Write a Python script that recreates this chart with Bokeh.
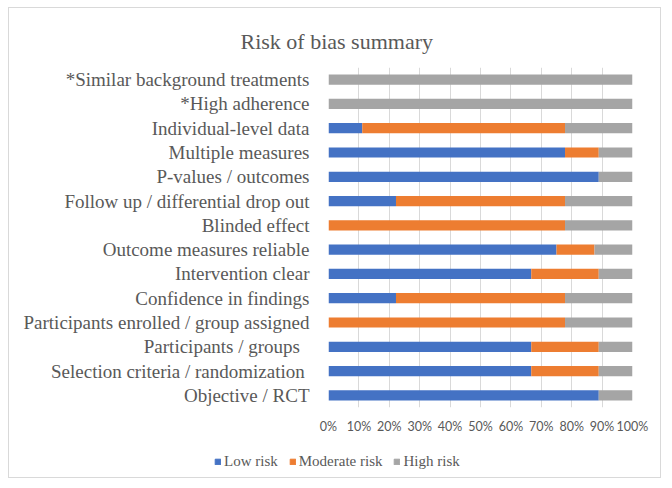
from bokeh.plotting import figure
from bokeh.models import Range1d, FactorRange, Legend, LegendItem, ColumnDataSource, FixedTicker, Title
from bokeh.embed import file_html
from bokeh.resources import INLINE

categories = [
    "Objective / RCT",
    "Selection criteria / randomization ",
    "Participants  / groups ",
    "Participants enrolled / group assigned",
    "Confidence in findings",
    "Intervention clear",
    "Outcome measures reliable",
    "Blinded effect",
    "Follow up / differential drop out",
    "P-values / outcomes",
    "Multiple measures",
    "Individual-level data",
    "*High adherence",
    "*Similar background treatments",
]
low_risk = [88.9, 66.7, 66.7, 0.0, 22.2, 66.7, 75.0, 0.0, 22.2, 88.9, 77.8, 11.1, 0.0, 0.0]
moderate_risk = [0.0, 22.2, 22.2, 77.8, 55.6, 22.2, 12.5, 77.8, 55.6, 0.0, 11.1, 66.7, 0.0, 0.0]
high_risk = [11.1, 11.1, 11.1, 22.2, 22.2, 11.1, 12.5, 22.2, 22.2, 11.1, 11.1, 22.2, 100.0, 100.0]
series_names = ["Low risk", "Moderate risk", "High risk"]
series_colors = ["#4472C4", "#ED7D31", "#A5A5A5"]
tick_values = [0, 10, 20, 30, 40, 50, 60, 70, 80, 90, 100]
tick_labels = ["0%", "10%", "20%", "30%", "40%", "50%", "60%", "70%", "80%", "90%", "100%"]
title_text = "Risk of bias summary"

src = ColumnDataSource(dict(cat=categories, **{
    "Low risk": low_risk, "Moderate risk": moderate_risk, "High risk": high_risk}))

p = figure(
    width=653, height=436,
    y_range=FactorRange(factors=categories, range_padding=0),
    x_range=Range1d(0, 100),
    output_backend="svg", toolbar_location=None,
    min_border_left=319, min_border_right=30, min_border_top=59, min_border_bottom=37,
    styles={"margin-left": "8px", "margin-top": "7px",
            "border-top": "1px solid #d9d9d9", "border-left": "1px solid #d9d9d9",
            "border-right": "1px solid #d9d9d9"},
)
p.outline_line_color = None
p.background_fill_color = "white"
p.border_fill_color = "white"

renderers = p.hbar_stack(series_names, y="cat", height=0.42, color=series_colors,
                         source=src, line_color=None)

p.xaxis.ticker = FixedTicker(ticks=tick_values)
p.xaxis.major_label_overrides = {v: l for v, l in zip(tick_values, tick_labels)}
p.xaxis.axis_line_color = None
p.xaxis.major_tick_line_color = None
p.xaxis.minor_tick_line_color = None
p.xaxis.major_label_text_font = "Lato"
p.xaxis.major_label_text_font_size = "12.5px"
p.xaxis.major_label_text_color = "#595959"
p.xaxis.major_label_standoff = 5

p.yaxis.axis_line_color = None
p.yaxis.major_tick_line_color = None
p.yaxis.minor_tick_line_color = None
p.yaxis.major_label_text_font = "Liberation Serif"
p.yaxis.major_label_text_font_size = "19px"
p.yaxis.major_label_text_color = "#595959"
p.yaxis.major_label_standoff = 13

p.xgrid.ticker = FixedTicker(ticks=tick_values)
p.xgrid.grid_line_color = "#d9d9d9"
p.xgrid.grid_line_width = 1
p.ygrid.visible = False

p.title = Title(text=title_text, align="left", offset=-88, standoff=28,
                text_font="Liberation Serif", text_font_size="22px",
                text_color="#595959", text_font_style="normal")

# legend figure below the chart (separate root, so its frame is not aligned to the chart)
lf = figure(width=653, height=38, x_range=Range1d(0, 1), y_range=Range1d(0, 1),
            output_backend="svg", toolbar_location=None,
            min_border_left=0, min_border_right=0, min_border_top=0, min_border_bottom=0,
            styles={"margin-left": "8px", "margin-top": "-3px", "position": "relative",
                    "z-index": "1",
                    "border-bottom": "1px solid #d9d9d9", "border-left": "1px solid #d9d9d9",
                    "border-right": "1px solid #d9d9d9"})
lf.axis.visible = False
lf.grid.visible = False
lf.outline_line_color = None
lf.background_fill_color = "white"
lf.border_fill_color = "white"
# one point per swatch, placed well outside the visible ranges, so that the legend glyphs draw
offscreen = ColumnDataSource(dict(y=[-5.0], left=[-6.0], right=[-5.5]))
legend_renderers = [lf.hbar(y="y", left="left", right="right", height=0.5, color=c,
                            source=offscreen)
                    for c in series_colors]
legend = Legend(
    items=[LegendItem(label=n, renderers=[r]) for n, r in zip(series_names, legend_renderers)],
    orientation="horizontal", location=(205, 8),
    padding=0, margin=0, spacing=11, label_standoff=3,
    glyph_width=7, glyph_height=7,
    border_line_color=None, background_fill_alpha=0,
    label_text_font="Liberation Serif", label_text_font_size="15px", label_text_color="#595959",
)
lf.add_layout(legend, "center")

open("out.html", "w").write(file_html([p, lf], INLINE))
